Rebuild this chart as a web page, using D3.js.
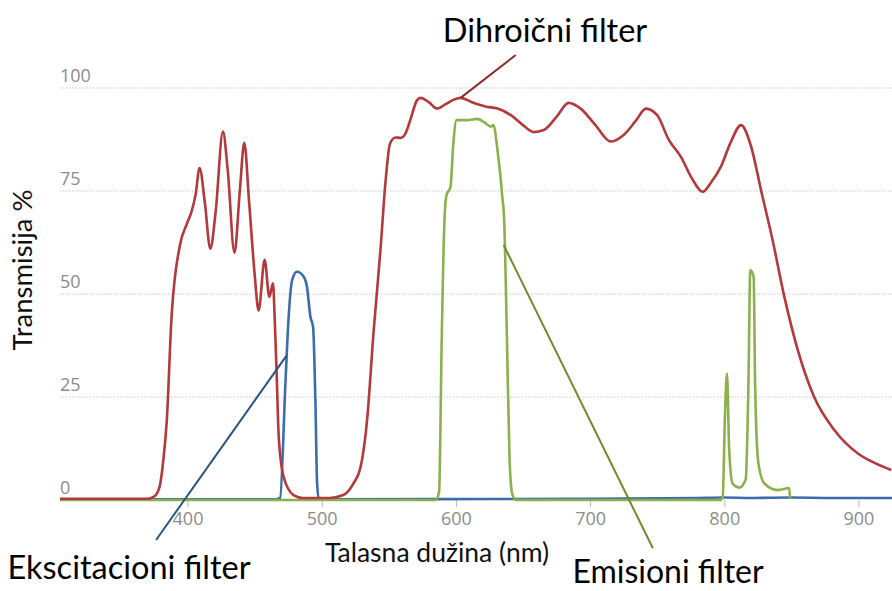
<!DOCTYPE html>
<html>
<head>
<meta charset="utf-8">
<script src="https://cdn.jsdelivr.net/npm/d3@7"></script>
<style>
  html, body { margin: 0; padding: 0; background: #fff; }
  svg { display: block; }
</style>
</head>
<body>
<svg id="chart" width="892" height="591"></svg>
<script>
// Transmission spectra of a fluorescence filter set (wavelength in nm, transmission in %)

// Dichroic mirror
const dichroicNm = [305, 370, 375, 379, 382, 384.6, 388, 394.5, 399.5, 403, 406, 409, 413, 417, 421,
  426.4, 430, 435, 439, 442.3, 446, 450, 453, 457.5, 461, 463.7, 465, 466.5, 468, 471.6, 479, 486,
  506, 516, 523.6, 529, 534, 538.6, 543.8, 547.5, 551, 555, 558.7, 562.5, 566, 571, 573.7, 580,
  586, 592, 597.3, 603.5, 613, 622, 631, 641, 650, 658, 665.5, 675, 684, 693, 704, 715.4, 725,
  734, 741.6, 750, 758.7, 767.7, 776, 783.9, 790, 797.5, 805, 812.5, 820, 827.4, 836, 844.8,
  854.8, 867, 882, 899.6, 912, 924.4];
const dichroicT = [0.3, 0.3, 0.8, 3, 9.7, 19.4, 43.7, 62, 67, 70, 74, 80.6, 72, 61, 70,
  89.4, 80, 60, 75, 86.7, 72, 55, 46, 58.3, 49.3, 52.6, 44, 30, 15.4, 5.7, 1.2, 0.5,
  0.5, 1.2, 4, 8, 20, 40.5, 60.7, 77, 86.6, 88, 87.9, 89, 92.2, 97, 97.6, 96.5,
  95, 96, 97, 97.6, 96.4, 95.5, 95, 93.4, 91, 89.3, 89.8, 93, 96.4, 95, 91, 87, 88.6,
  92, 95, 93.4, 87.4, 83.3, 78, 74.8, 77, 80.9, 87, 91, 85.8, 75.2, 63.1, 49.3,
  36.4, 25, 17, 11.3, 9, 7.3];

// Excitation filter
const excitationNm = [305, 466, 469, 473, 475.4, 478, 481.6, 486.6, 489, 491.6, 493.6, 495.3, 496.6,
  497.8, 500, 700, 780, 800, 820, 850, 880, 925];
const excitationT = [0.2, 0.2, 0.5, 28.4, 44.5, 53.4, 55.4, 54.2, 51.8, 44.5, 42, 24.3, 4,
  0.5, 0.2, 0.3, 0.5, 0.6, 0.5, 0.6, 0.5, 0.5];

// Emission filter
const emissionNm = [305, 585, 587.5, 589.5, 591.5, 593, 596, 598, 600.5, 608.5, 616, 622, 626, 628,
  631, 634.6, 636, 638, 640, 642, 645, 797, 798.8, 800.5, 802, 803.7, 806.2, 811, 816, 818,
  819.4, 821.9, 823, 825.4, 829.9, 840, 848.5, 849];
const emissionT = [0, 0, 2, 40, 68, 74, 76, 86, 92.2, 92.2, 92.5, 91.5, 90.6, 91,
  85, 73.6, 68, 40, 10, 1.5, 0, 0, 0.5, 20, 30.7, 12, 4, 3, 5, 28,
  55.8, 54.2, 28, 9, 4, 2.4, 2.9, 0.3];

const xTicks = [400, 500, 600, 700, 800, 900];
const yTicks = [0, 25, 50, 75, 100];

// Callout labels, each anchored at a point in data space
const labelNames = ["Dihroični filter", "Ekscitacioni filter", "Emisioni filter"];
const labelFrom = [[644.6, 108], [376.6, -9.7], [746.8, -11.7]];
const labelTo = [[603.5, 97.6], [473.7, 35], [635.6, 61.9]];

const svg = d3.select("#chart");
const W = 892, H = 591;
const margin = { left: 60, right: 0, top: 88, bottom: 91 };

const x = d3.scaleLinear().domain([305, 925]).range([margin.left, W - margin.right]);
const y = d3.scaleLinear().domain([0, 100]).range([H - margin.bottom, margin.top]);

// Dotted gridlines
svg.append("g")
  .selectAll("line")
  .data(yTicks.filter(d => d > 0))
  .join("line")
  .attr("x1", x.range()[0]).attr("x2", x.range()[1])
  .attr("y1", d => y(d)).attr("y2", d => y(d))
  .attr("stroke", "#c8c8c8").attr("stroke-width", 1.2)
  .attr("stroke-dasharray", "1.5,1.5");

// Y tick labels sit above their gridline at the left edge
svg.append("g")
  .selectAll("text")
  .data(yTicks)
  .join("text")
  .attr("x", margin.left)
  .attr("y", d => y(d) - 6)
  .attr("font-family", "'Open Sans', sans-serif")
  .attr("font-size", 18)
  .attr("fill", "#8c8c8c")
  .text(d => d);

// X axis with small ticks below the baseline
const xAxis = d3.axisBottom(x).tickValues(xTicks).tickSize(7).tickPadding(5).tickFormat(d3.format("d"));
const gx = svg.append("g").attr("transform", `translate(0,${y(0)})`).call(xAxis);
gx.select(".domain").remove();
gx.selectAll(".tick line").attr("stroke", "#b8b8b8");
gx.selectAll(".tick text")
  .attr("font-family", "'Open Sans', sans-serif")
  .attr("font-size", 18)
  .attr("fill", "#8c8c8c");

const line = d3.line()
  .x(d => x(d[0]))
  .y(d => y(d[1]))
  .curve(d3.curveMonotoneX);

const series = [
  { nm: excitationNm, t: excitationT, color: "#3c6dab" },
  { nm: emissionNm, t: emissionT, color: "#8cb14c" },
  { nm: dichroicNm, t: dichroicT, color: "#b3393c" }
];

svg.append("g")
  .selectAll("path")
  .data(series)
  .join("path")
  .attr("d", s => line(s.nm.map((v, i) => [v, s.t[i]])))
  .attr("fill", "none")
  .attr("stroke", s => s.color)
  .attr("stroke-width", 2.6)
  .attr("stroke-linejoin", "round");

// Axis titles
svg.append("text")
  .attr("x", 437).attr("y", 562)
  .attr("text-anchor", "middle")
  .attr("font-family", "Lato, sans-serif")
  .attr("font-size", 26.5)
  .attr("fill", "#111")
  .text("Talasna dužina (nm)");

svg.append("text")
  .attr("transform", "translate(32,270) rotate(-90)")
  .attr("text-anchor", "middle")
  .attr("font-family", "Lato, sans-serif")
  .attr("font-size", 27.5)
  .attr("fill", "#111")
  .text("Transmisija %");

// Callouts
const lineColors = ["#8c2a2c", "#2b5282", "#6e8c2c"];
const labelPos = [[545, 42], [129, 579], [668, 583]];

svg.append("g")
  .selectAll("line")
  .data(labelNames)
  .join("line")
  .attr("x1", (d, i) => x(labelFrom[i][0])).attr("y1", (d, i) => y(labelFrom[i][1]))
  .attr("x2", (d, i) => x(labelTo[i][0])).attr("y2", (d, i) => y(labelTo[i][1]))
  .attr("stroke", (d, i) => lineColors[i])
  .attr("stroke-width", 2);

svg.append("g")
  .selectAll("text")
  .data(labelNames)
  .join("text")
  .attr("x", (d, i) => labelPos[i][0])
  .attr("y", (d, i) => labelPos[i][1])
  .attr("text-anchor", "middle")
  .attr("font-family", "Lato, sans-serif")
  .attr("font-size", (d, i) => i === 2 ? 32 : 32.5)
  .attr("fill", "#000")
  .text(d => d);
</script>
</body>
</html>
